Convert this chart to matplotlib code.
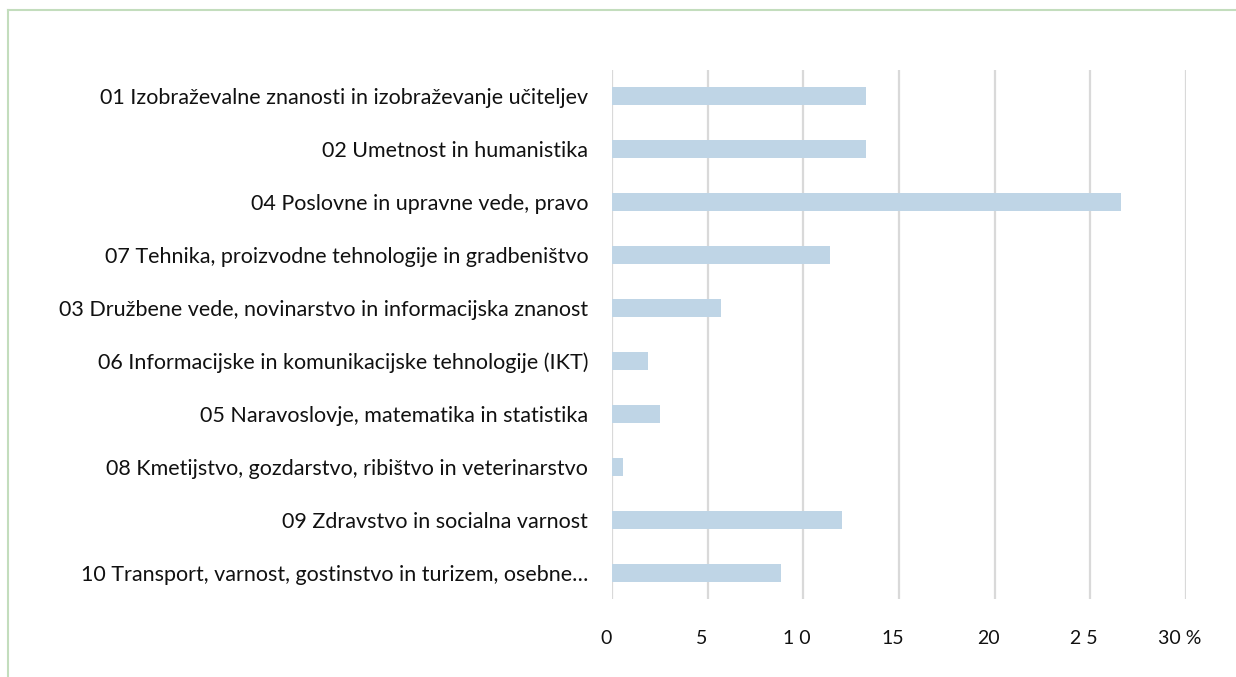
import matplotlib
matplotlib.use("Agg")
import matplotlib.pyplot as plt
from matplotlib.lines import Line2D
import matplotlib.transforms as mtransforms

categories = [
    "01 Izobraževalne znanosti in izobraževanje učiteljev",
    "02 Umetnost in humanistika",
    "04 Poslovne in upravne vede, pravo",
    "07 Tehnika, proizvodne tehnologije in gradbeništvo",
    "03 Družbene vede, novinarstvo in informacijska znanost",
    "06 Informacijske in komunikacijske tehnologije (IKT)",
    "05 Naravoslovje, matematika in statistika",
    "08 Kmetijstvo, gozdarstvo, ribištvo in veterinarstvo",
    "09 Zdravstvo in socialna varnost",
    "10 Transport, varnost, gostinstvo in turizem, osebne…",
]
values = [13.3, 13.3, 26.6, 11.4, 5.7, 1.9, 2.5, 0.6, 12.0, 8.85]
xticks = [0, 5, 10, 15, 20, 25, 30]
xticklabels = ["0", "5", "1 0", "15", "20", "2 5", "30 %"]

plt.rcParams['font.family'] = ['Lato', 'DejaVu Sans']

fig = plt.figure(figsize=(12.36, 6.77), dpi=100)
ax = fig.add_axes([0.4951, 0.1152, 0.9595 - 0.4951, 0.8966 - 0.1152])

y = list(range(len(categories)))
ax.barh(y, values, height=0.34, color="#bfd5e6", zorder=3)
ax.set_ylim(len(categories) - 0.5, -0.5)
ax.set_xlim(0, 30)
ax.set_yticks(y)
ax.set_yticklabels(categories, fontsize=15.5, color="#111111")
ax.set_xticks(xticks)
ax.set_xticklabels(xticklabels, fontsize=14, color="#111111")
ax.tick_params(axis='y', length=0, pad=17)
ax.tick_params(axis='x', length=0, pad=22)
ax.grid(axis='x', color="#d9d9d9", linewidth=1.6, zorder=0)
ax.grid(axis='y', visible=False)
for s in ax.spines.values():
    s.set_visible(False)

offset = mtransforms.ScaledTranslation(-6 / 100, 0, fig.dpi_scale_trans)
for lbl in ax.get_xticklabels():
    lbl.set_transform(lbl.get_transform() + offset)

# green frame (top and left edges)
W, H = 1236, 677
fig.add_artist(Line2D([8 / W, 1.0], [1 - 10 / H, 1 - 10 / H], color="#c3ddbd", linewidth=1.5, transform=fig.transFigure))
fig.add_artist(Line2D([8 / W, 8 / W], [0.0, 1 - 10 / H], color="#c3ddbd", linewidth=1.5, transform=fig.transFigure))

fig.savefig("out.png", dpi=100)
